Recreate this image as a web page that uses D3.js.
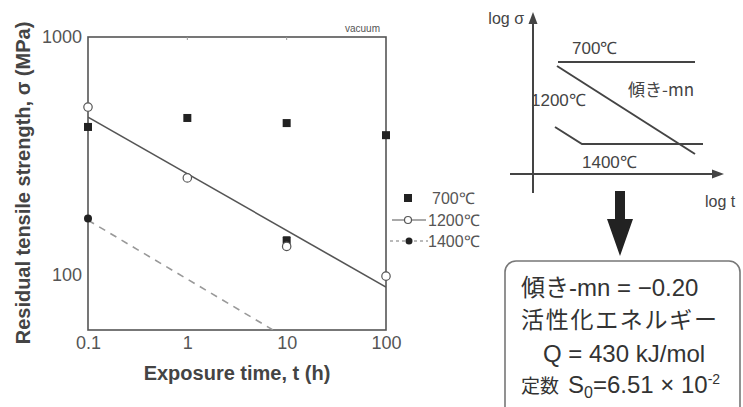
<!DOCTYPE html>
<html><head><meta charset="utf-8">
<script src="https://cdn.jsdelivr.net/npm/d3@7"></script>
<style>body{margin:0;background:#fff}svg{display:block;font-family:"Liberation Sans",Arial,sans-serif}</style>
</head><body><svg id="c" width="743" height="407"></svg>
<script>
const xTicks = [0.1, 1, 10, 100];
const yTicks = [100, 1000];
const t700 = [0.1, 1, 10, 100];
const v700 = [419, 457, 435, 387];
const t1200 = [0.1, 1, 10, 100];
const v1200 = [508, 256, 132, 99];
const t1400 = [0.1, 10];
const v1400 = [173, 140];
const fit1200 = [[0.1, 461], [100, 89]];
const fit1400 = [[0.1, 170], [7.3, 58.8]];
const legendLabels = ["700℃", "1200℃", "1400℃"];

const svg = d3.select("#c");
const ink = "#444";
const x = d3.scaleLog().domain([0.1, 100]).range([88, 386]);
const y = d3.scaleLog().domain([58.8, 1000]).range([330, 37]);

svg.append("clipPath").attr("id","pc").append("rect")
  .attr("x",88).attr("y",37).attr("width",298).attr("height",293);

const gx = svg.append("g").attr("transform","translate(0,330)")
  .call(d3.axisBottom(x).tickValues(xTicks).tickFormat(d=>String(d)).tickSize(0).tickPadding(6));
gx.select(".domain").remove();
gx.selectAll("text").attr("font-size",18).attr("fill","#555").attr("font-family","Liberation Sans, Arial");
const gy = svg.append("g").attr("transform","translate(88,0)")
  .call(d3.axisLeft(y).tickValues(yTicks).tickFormat(d=>String(d)).tickSize(0).tickPadding(6));
gy.select(".domain").remove();
gy.selectAll("text").attr("font-size",18).attr("fill","#555").attr("font-family","Liberation Sans, Arial");

svg.append("rect").attr("x",88).attr("y",37).attr("width",298).attr("height",293)
  .attr("fill","none").attr("stroke","#555").attr("stroke-width",1.6);
svg.selectAll(".tt").data([1,10]).enter().append("line")
  .attr("x1",d=>x(d)).attr("x2",d=>x(d)).attr("y1",37).attr("y2",40)
  .attr("stroke","#999").attr("stroke-width",1);

svg.append("text").attr("x",380).attr("y",32).attr("text-anchor","end")
  .attr("font-size",10).attr("fill","#555").text("vacuum");

const line = d3.line().x(d=>x(d[0])).y(d=>y(d[1]));
const plot = svg.append("g").attr("clip-path","url(#pc)");
plot.append("path").attr("d",line(fit1200)).attr("fill","none").attr("stroke","#555").attr("stroke-width",1.6);
plot.append("path").attr("d",line(fit1400)).attr("fill","none").attr("stroke","#999")
  .attr("stroke-width",1.6).attr("stroke-dasharray","7,6");

svg.selectAll(".m700").data(t700.map((t,i)=>[t,v700[i]])).enter().append("rect")
  .attr("x",d=>x(d[0])-4).attr("y",d=>y(d[1])-4).attr("width",8).attr("height",8)
  .attr("fill","#222");
svg.selectAll(".m1400").data(t1400.map((t,i)=>[t,v1400[i]])).enter().append("rect")
  .attr("x",d=>x(d[0])-4).attr("y",d=>y(d[1])-4).attr("width",8).attr("height",8).attr("rx",(d,i)=>i===0?4:1)
  .attr("fill","#222");
svg.selectAll(".m1200").data(t1200.map((t,i)=>[t,v1200[i]])).enter().append("circle")
  .attr("cx",d=>x(d[0])).attr("cy",d=>y(d[1])).attr("r",4.2)
  .attr("fill","#fff").attr("stroke","#555").attr("stroke-width",1.2);

svg.append("text").attr("x",237).attr("y",380).attr("text-anchor","middle")
  .attr("font-size",20).attr("font-weight","bold").attr("fill",ink).text("Exposure time, t (h)");
svg.append("text").attr("transform","translate(30,183) rotate(-90)").attr("text-anchor","middle")
  .attr("font-size",20).attr("font-weight","bold").attr("fill",ink).text("Residual tensile strength, σ (MPa)");

const lg = svg.append("g");
const ly = [198, 220, 241];
lg.append("rect").attr("x",404).attr("y",ly[0]-4).attr("width",8).attr("height",8).attr("fill","#222");
lg.append("line").attr("x1",392).attr("x2",426).attr("y1",ly[1]).attr("y2",ly[1]).attr("stroke","#555").attr("stroke-width",1.2);
lg.append("circle").attr("cx",408).attr("cy",ly[1]).attr("r",3.5).attr("fill","#fff").attr("stroke","#555").attr("stroke-width",1.2);
lg.append("line").attr("x1",390).attr("x2",428).attr("y1",ly[2]).attr("y2",ly[2]).attr("stroke","#777").attr("stroke-width",1.2).attr("stroke-dasharray","3,3");
lg.append("circle").attr("cx",409).attr("cy",ly[2]).attr("r",3.5).attr("fill","#222");
lg.selectAll(".lt").data(legendLabels).enter().append("text")
  .attr("x",(d,i)=>i===0?432:428).attr("y",(d,i)=>ly[i]+6).attr("font-size",16).attr("fill","#555").text(d=>d);

const sc = svg.append("g").attr("stroke","#444").attr("stroke-width",2).attr("fill","none");
sc.append("line").attr("x1",533).attr("x2",533).attr("y1",20).attr("y2",193);
sc.append("line").attr("x1",510).attr("x2",716).attr("y1",174).attr("y2",174);
svg.append("path").attr("d","M533,12 L528.5,24 L537.5,24 Z").attr("fill","#444");
svg.append("path").attr("d","M724,174 L712,169.5 L712,178.5 Z").attr("fill","#444");
sc.append("line").attr("x1",558).attr("x2",695).attr("y1",62).attr("y2",62);
sc.append("line").attr("x1",557).attr("x2",695).attr("y1",66).attr("y2",154);
sc.append("polyline").attr("points","555,127 582,144 703,144");
const st = svg.append("g").attr("fill","#444").attr("font-size",17);
st.append("text").attr("x",524).attr("y",24).attr("text-anchor","end").attr("font-size",16).text("log σ");
st.append("text").attr("x",572).attr("y",54).text("700℃");
st.append("text").attr("x",531).attr("y",106).text("1200℃");
st.append("text").attr("x",628).attr("y",96).attr("font-family","Noto Sans CJK JP, Liberation Sans").text("傾き-mn");
st.append("text").attr("x",582).attr("y",168).text("1400℃");
st.append("text").attr("x",705).attr("y",207).attr("font-size",16).text("log t");

svg.append("path").attr("d","M615,191 L625,191 L625,219 L633,219 L620,256 L607,219 L615,219 Z").attr("fill","#222");

svg.append("rect").attr("x",505).attr("y",261).attr("width",235).attr("height",160).attr("rx",11)
  .attr("fill","#fff").attr("stroke","#777").attr("stroke-width",1.6);
const bt = svg.append("g").attr("fill","#333").attr("font-size",24);
bt.append("text").attr("x",521).attr("y",296).attr("font-family","Noto Sans CJK JP, Liberation Sans")
  .html('傾き<tspan font-family="Liberation Sans">-mn = −0.20</tspan>');
bt.append("text").attr("x",521).attr("y",328).attr("font-family","Noto Sans CJK JP").attr("font-size",23).attr("textLength",196).text("活性化エネルギー");
bt.append("text").attr("x",543).attr("y",362).text("Q = 430 kJ/mol");
const l4 = bt.append("text").attr("x",521).attr("y",393);
l4.append("tspan").attr("font-family","Noto Sans CJK JP").attr("font-size",19).text("定数 ");
l4.append("tspan").attr("x",568).text("S");
l4.append("tspan").attr("font-size",16).attr("dy",5).text("0");
l4.append("tspan").attr("dy",-5).text("=6.51 × 10");
l4.append("tspan").attr("font-size",14).attr("dy",-9).text("-2");
</script></body></html>
